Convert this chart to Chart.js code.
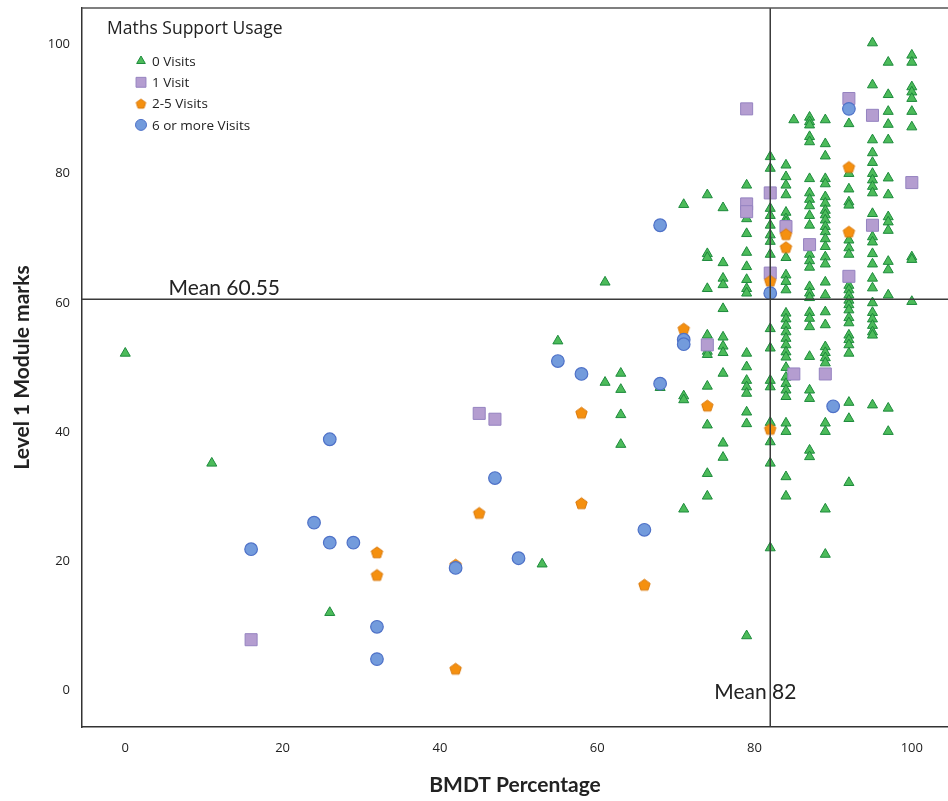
<!DOCTYPE html>
<html>
<head>
<meta charset="utf-8">
<title>Maths Support Usage</title>
<script src="https://cdn.jsdelivr.net/npm/chart.js@4.4.0/dist/chart.umd.min.js"></script>
<style>
  body { margin: 0; background: #fff; }
  #wrap { width: 948px; height: 801px; }
</style>
</head>
<body>
<div id="wrap"><canvas id="usageChart" width="948" height="801"></canvas></div>
<script>
// values (x = BMDT %, y = Level 1 mark)
const legendTitle = 'Maths Support Usage';
const seriesNames = ['0 Visits', '1 Visit', '2-5 Visits', '6 or more Visits'];

// 0 visits: [BMDT %, marks in that column]
const noVisitColumns = [
  [0, [52.2]],
  [11, [35.2]],
  [26, [12.1]],
  [53, [19.6]],
  [55, [54.1]],
  [61, [63.2, 47.7]],
  [63, [49.1, 46.6, 42.7, 38.1]],
  [68, [46.9]],
  [71, [75.2, 45.6, 45.0, 28.1]],
  [74, [76.7, 67.6, 67.0, 62.2, 55.0, 52.5, 52.0, 47.1, 41.1, 33.6, 30.1]],
  [76, [74.7, 66.2, 63.8, 62.8, 59.1, 54.7, 53.3, 52.3, 49.1, 38.3, 36.1]],
  [79, [78.2, 73.0, 70.7, 67.8, 65.6, 63.6, 62.2, 61.5, 52.2, 50.1, 48.0, 47.0, 46.0, 43.1, 41.3, 8.5]],
  [82, [82.6, 80.8, 74.6, 73.5, 72.0, 70.5, 69.5, 67.5, 56.0, 53.0, 48.0, 47.0, 41.5, 38.5, 35.2, 22.1]],
  [84, [81.3, 79.5, 78.2, 76.7, 74.0, 73.0, 72.5, 67.0, 64.3, 63.3, 62.0, 58.4, 57.5, 56.5, 55.5, 54.5,
        53.5, 52.4, 51.6, 50.0, 48.5, 47.5, 46.5, 45.5, 41.4, 40.1, 33.1, 30.1]],
  [85, [88.3]],
  [87, [88.7, 88.0, 87.5, 85.7, 84.9, 79.2, 77.0, 76.0, 75.0, 73.5, 72.0, 67.5, 66.5, 65.5, 62.5, 61.5,
        60.8, 58.5, 57.6, 56.3, 51.7, 46.5, 45.2, 37.2, 36.2]],
  [89, [88.3, 84.6, 82.7, 79.2, 78.4, 76.4, 75.4, 74.3, 73.6, 72.8, 71.8, 71.0, 69.9, 68.7, 67.1, 66.0,
        63.2, 61.2, 58.6, 56.6, 53.2, 52.3, 51.5, 50.7, 41.4, 40.1, 28.1, 21.1]],
  [92, [87.7, 80.0, 77.6, 75.6, 75.1, 69.7, 68.5, 67.5, 62.7, 62.0, 61.2, 60.4, 59.7, 58.9, 57.7, 56.9,
        55.0, 54.3, 53.5, 52.2, 44.6, 42.1, 32.2]],
  [95, [100.2, 93.7, 85.2, 83.2, 81.7, 80.0, 79.0, 78.0, 77.0, 73.8, 70.2, 69.4, 67.6, 66.0, 63.8, 62.3,
        60.0, 58.5, 57.5, 56.5, 55.5, 55.0, 44.2]],
  [97, [97.2, 92.2, 89.6, 87.6, 85.2, 79.3, 76.7, 73.3, 72.5, 71.2, 66.4, 65.1, 61.2, 43.7, 40.1]],
  [100, [98.3, 97.2, 93.4, 92.6, 91.6, 89.6, 87.2, 67.1, 66.7, 60.2]]
];

const oneVisit = [
  [16, 7.9], [45, 42.9], [47, 42.0], [74, 53.5], [79, 90.0], [79, 75.3], [79, 74.1], [82, 77.0],
  [82, 64.6], [84, 71.8], [85, 49.0], [87, 69.0], [89, 49.0], [92, 91.6], [92, 64.1], [95, 89.0],
  [95, 72.0], [100, 78.6]
];

const twoToFiveVisits = [
  [32, 21.4], [32, 17.9], [42, 19.5], [42, 3.4], [45, 27.5], [58, 43.0], [58, 29.0], [66, 16.4],
  [71, 56.0], [74, 44.1], [82, 63.4], [82, 40.5], [84, 70.6], [84, 68.6], [92, 81.0], [92, 71.0]
];

const sixPlusVisits = [
  [16, 21.9], [24, 26.0], [26, 38.9], [26, 22.9], [29, 22.9], [32, 9.9], [32, 4.9], [42, 19.0],
  [47, 32.9], [50, 20.5], [55, 51.0], [58, 49.0], [66, 24.9], [68, 72.0], [68, 47.5], [71, 54.3],
  [71, 53.6], [82, 61.5], [90, 44.0], [92, 90.0]
];

const xTicks = [0, 20, 40, 60, 80, 100];
const yTicks = [0, 20, 40, 60, 80, 100];
const meanBmdt = 82;
const meanMarks = 60.55;

const toPoints = pairs => pairs.map(([x, y]) => ({ x, y }));
const noVisits = noVisitColumns.flatMap(([x, ys]) => ys.map(y => ({ x, y })));

function pentagon(r, fill, stroke) {
  const c = document.createElement('canvas');
  const s = Math.ceil(r * 2 + 3);
  c.width = s;
  c.height = s;
  const g = c.getContext('2d');
  g.beginPath();
  for (let i = 0; i < 5; i++) {
    const a = -Math.PI / 2 + i * 2 * Math.PI / 5;
    g.lineTo(s / 2 + r * Math.cos(a), s / 2 + 0.5 + r * Math.sin(a));
  }
  g.closePath();
  g.fillStyle = fill;
  g.fill();
  g.strokeStyle = stroke;
  g.lineWidth = 1;
  g.stroke();
  return c;
}

const pentagonMark = pentagon(6, '#f5900f', '#d9780a');
const pentagonSmall = pentagon(5, '#f5900f', '#d9780a');

// legend drawn inside the plot, like the original
const usageLegend = {
  id: 'usageLegend',
  afterDraw(chart) {
    const ctx = chart.ctx;
    ctx.save();
    ctx.fillStyle = '#222';
    ctx.textBaseline = 'middle';
    ctx.font = '17.5px "Open Sans", sans-serif';
    ctx.fillText(legendTitle, 107, 29);
    ctx.font = '13.5px "Open Sans", sans-serif';
    chart.data.datasets.forEach((ds, i) => {
      const y = 61 + i * 21.3;
      ctx.fillStyle = ds.backgroundColor;
      ctx.strokeStyle = ds.borderColor;
      ctx.lineWidth = 1;
      let style = ds.pointStyle;
      if (style === pentagonMark) style = pentagonSmall;
      const r = { triangle: 5, rect: 7, circle: 5.5 }[style] || 5;
      Chart.helpers.drawPoint(ctx, { pointStyle: style, radius: r, rotation: 0, borderWidth: 1 }, 141, y);
      ctx.fillStyle = '#222';
      ctx.fillText(ds.label, 152, y + 1);
    });
    ctx.restore();
  }
};

// mean reference lines + top frame
const meanLines = {
  id: 'meanLines',
  afterDatasetsDraw(chart) {
    const { ctx, chartArea: a, scales: { x, y } } = chart;
    const mx = x.getPixelForValue(meanBmdt);
    const my = y.getPixelForValue(meanMarks);
    ctx.save();
    ctx.strokeStyle = '#3a3a3a';
    ctx.lineWidth = 1.5;
    ctx.beginPath();
    ctx.moveTo(a.left, my);
    ctx.lineTo(a.right, my);
    ctx.moveTo(mx, a.top);
    ctx.lineTo(mx, a.bottom);
    ctx.stroke();
    ctx.strokeStyle = '#555';
    ctx.lineWidth = 1.5;
    ctx.beginPath();
    ctx.moveTo(a.left, a.top);
    ctx.lineTo(a.right, a.top);
    ctx.stroke();
    ctx.fillStyle = '#222';
    ctx.font = '21px Lato, sans-serif';
    ctx.textBaseline = 'alphabetic';
    ctx.fillText('Mean ' + meanMarks, x.getPixelForValue(5.5), my - 4);
    ctx.fillText('Mean ' + meanBmdt, mx - 56, y.getPixelForValue(-1.2));
    ctx.restore();
  }
};

new Chart(document.getElementById('usageChart'), {
  type: 'scatter',
  data: {
    datasets: [
      {
        label: seriesNames[0], data: noVisits, order: 4,
        pointStyle: 'triangle', radius: 5.8, borderWidth: 1,
        backgroundColor: '#4cbb5a', borderColor: '#1d8a3c'
      },
      {
        label: seriesNames[1], data: toPoints(oneVisit), order: 3,
        pointStyle: 'rect', radius: 8.5, borderWidth: 1,
        backgroundColor: '#b49dd0', borderColor: '#9583c0'
      },
      {
        label: seriesNames[2], data: toPoints(twoToFiveVisits), order: 2,
        pointStyle: pentagonMark, radius: 6, borderWidth: 1,
        backgroundColor: '#f5900f', borderColor: '#d9780a'
      },
      {
        label: seriesNames[3], data: toPoints(sixPlusVisits), order: 1,
        pointStyle: 'circle', radius: 6.3, borderWidth: 1.2,
        backgroundColor: '#739bdc', borderColor: '#4f72c8'
      }
    ]
  },
  options: {
    responsive: false,
    animation: false,
    layout: { autoPadding: false, padding: { top: 8, right: 0, left: 0, bottom: 0 } },
    plugins: { legend: { display: false }, tooltip: { enabled: false } },
    scales: {
      x: {
        type: 'linear', min: -5.5, max: 104.6,
        afterFit: s => { s.height = 74; s.paddingLeft = 0; s.paddingRight = 0; },
        afterBuildTicks: s => { s.ticks = xTicks.map(v => ({ value: v })); },
        grid: { display: false, drawTicks: true, tickLength: 7, tickColor: '#333', tickWidth: 1.5 },
        border: { display: true, color: '#333', width: 1.5 },
        ticks: { padding: 6, color: '#222', font: { family: 'Open Sans', size: 13 } },
        title: {
          display: true, text: 'BMDT Percentage', color: '#222',
          font: { family: 'Lato', size: 21, weight: 'bold' }, padding: { top: 0, bottom: 3 }
        }
      },
      y: {
        type: 'linear', min: -5.6, max: 105.6,
        afterFit: s => { s.width = 82; s.paddingTop = 0; s.paddingBottom = 0; },
        afterBuildTicks: s => { s.ticks = yTicks.map(v => ({ value: v })); },
        grid: { display: false, drawTicks: true, tickLength: 7, tickColor: '#333', tickWidth: 1.5 },
        border: { display: true, color: '#333', width: 1.5 },
        ticks: { padding: 5, color: '#222', font: { family: 'Open Sans', size: 13 } },
        title: {
          display: true, text: 'Level 1 Module marks', color: '#222',
          font: { family: 'Lato', size: 21, weight: 'bold' }, padding: { top: 10, bottom: 0 }
        }
      }
    }
  },
  plugins: [meanLines, usageLegend]
});
</script>
</body>
</html>
